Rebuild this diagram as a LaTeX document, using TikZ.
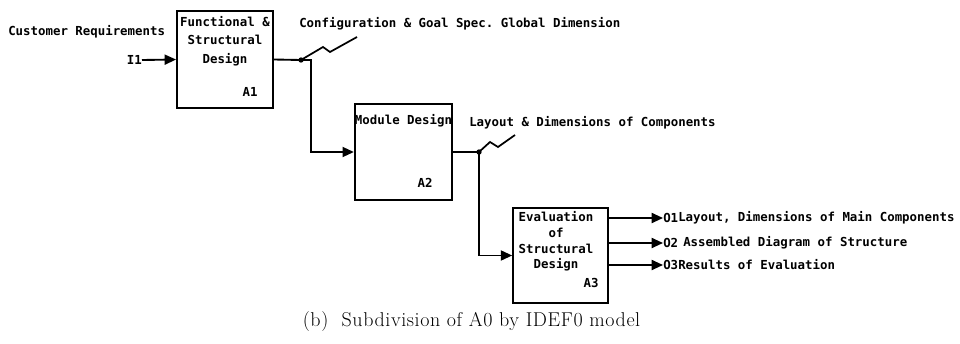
\documentclass[tikz,border=0pt]{standalone}
\usepackage{fontspec}
\newfontfamily\diafont{DejaVu Sans Mono}
\newfontfamily\capfont[LetterSpace=3]{Latin Modern Roman}
\usetikzlibrary{arrows.meta}
\begin{document}
\begin{tikzpicture}[x=0.75pt,y=-0.75pt,
  box/.style={draw,line width=1.5pt,inner sep=0pt},
  lbl/.style={font=\diafont\bfseries\fontsize{9.3}{14}\selectfont,inner sep=0pt},
  conn/.style={line width=1.4pt},
  arr/.style={conn,-{Triangle[length=8.5pt,width=7.5pt]}},
  bolt/.style={line width=1.3pt},
  dot/.style={circle,fill,inner sep=0pt,minimum size=4pt}]
\useasboundingbox (0,0) rectangle (960,343);
% boxes
\node[box,minimum width=72pt,minimum height=73pt] (A1) at (225,59.5) {};
\node[box,minimum width=73pt,minimum height=72pt] (A2) at (403.5,152) {};
\node[box,minimum width=71pt,minimum height=71pt] (A3) at (560.5,255.5) {};
% box texts
\node[lbl,align=center] (t1) at (225,41) {Functional \&\\Structural\\Design};
\node[lbl] (n1) at (250,92) {A1};
\node[lbl] (t2) at (403.5,121) {Module Design};
\node[lbl] (n2) at (425,183) {A2};
\node[lbl,align=center,font=\diafont\bfseries\fontsize{9.3}{11.8}\selectfont] (t3) at (556,241.5) {Evaluation\\of\\Structural\\Design};
\node[lbl] (n3) at (591,283) {A3};
% external labels
\node[lbl,anchor=west] (cr) at (8,32) {Customer Requirements};
\node[lbl,anchor=east] (I1) at (142,60) {I1};
\node[lbl,anchor=west] (cg) at (299,24) {Configuration \& Goal Spec.\ Global Dimension};
\node[lbl,anchor=west] (ld) at (469,123) {Layout \& Dimensions of Components};
\node[lbl,anchor=west] (O1) at (663,218) {O1};
\node[lbl,anchor=west] (O2) at (663,243) {O2};
\node[lbl,anchor=west] (O3) at (663,265) {O3};
\node[lbl,anchor=west] (L1) at (678,218) {Layout, Dimensions of Main Components};
\node[lbl,anchor=west] (L2) at (683,243) {Assembled Diagram of Structure};
\node[lbl,anchor=west] (L3) at (678,265) {Results of Evaluation};
% junctions
\coordinate (j1) at (301,60);
\coordinate (c1) at (311,60);
\coordinate (j2) at (479,152);
\node[dot] (d1) at (j1) {};
\node[dot] (d2) at (j2) {};
% connectors
\draw[arr] (I1.east) -- (A1.west);
\draw[arr] (A1.east) -- (j1) -- (c1) |- (A2.west);
\draw[arr] (A2.east) -- (j2) |- (A3.west);
\draw[arr] (A3.east |- O1.west) -- (O1.west);
\draw[arr] (A3.east |- O2.west) -- (O2.west);
\draw[arr] (A3.east |- O3.west) -- (O3.west);
% squiggles
\draw[bolt] (j1) -- (323,47) -- (330,52) -- (357,37);
\draw[bolt] (j2) -- (490,142) -- (498,147) -- (515,135);
% caption
\node[font=\capfont\fontsize{15}{18}\selectfont,inner sep=0pt] (cap) at (471.5,322) {(b)\ \ Subdivision of A0 by IDEF0 model};
\end{tikzpicture}
\end{document}
